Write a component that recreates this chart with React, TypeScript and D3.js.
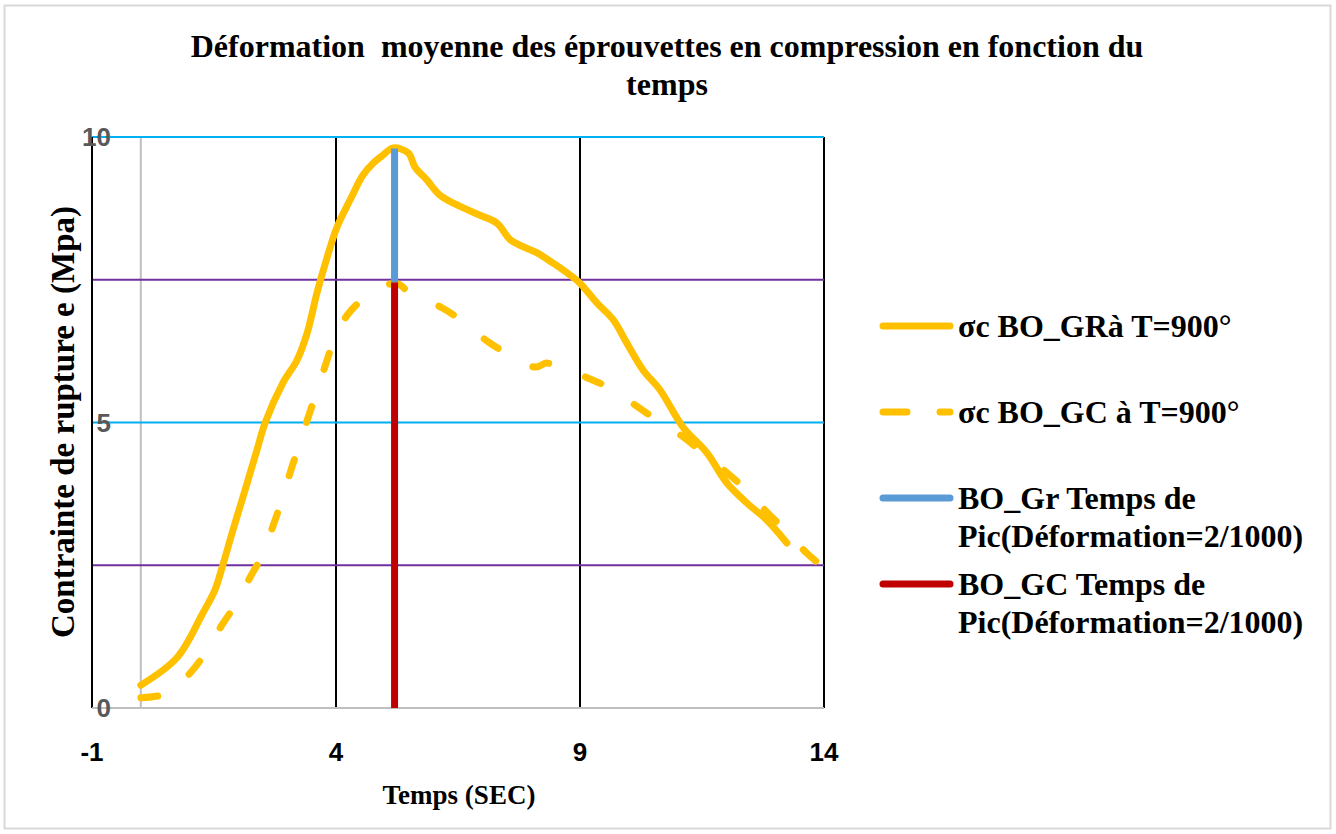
import React from "react";
import * as d3 from "d3";

const grTime = [0, 0.74, 1.27, 1.52, 1.68, 1.89, 2.18, 2.38, 2.55, 2.91, 3.2, 3.41, 3.61, 3.82, 4.02, 4.29, 4.55, 4.76, 4.96, 5.17, 5.48, 5.62, 5.86, 6.13, 6.48, 6.95, 7.3, 7.57, 7.83, 8.12, 8.45, 8.8, 9.0, 9.35, 9.68, 9.96, 10.29, 10.64, 11.11, 11.6, 12.01, 12.42, 12.83, 13.24];
const grStress = [0.4, 0.88, 1.66, 2.07, 2.5, 3.12, 3.94, 4.52, 5.0, 5.69, 6.09, 6.57, 7.27, 7.9, 8.42, 8.9, 9.33, 9.54, 9.68, 9.81, 9.72, 9.47, 9.25, 8.98, 8.81, 8.63, 8.49, 8.2, 8.08, 7.97, 7.79, 7.58, 7.44, 7.09, 6.8, 6.39, 5.92, 5.57, 4.92, 4.47, 3.94, 3.59, 3.29, 2.89];

const gcTime = [0, 0.56, 1.03, 1.32, 1.66, 1.93, 2.24, 2.48, 2.71, 2.87, 3.06, 3.22, 3.41, 3.57, 3.77, 3.94, 4.23, 4.59, 5.17, 5.31, 5.56, 6.17, 6.58, 7.09, 7.48, 8.08, 8.32, 8.55, 9.16, 9.61, 10.19, 10.58, 11.11, 11.5, 12.01, 12.38, 12.83, 13.16, 13.65, 13.98];
const gcStress = [0.18, 0.26, 0.63, 0.96, 1.45, 1.8, 2.29, 2.66, 3.19, 3.59, 4.12, 4.54, 5.04, 5.45, 5.97, 6.39, 6.88, 7.18, 7.44, 7.41, 7.23, 7.01, 6.78, 6.43, 6.22, 5.97, 6.04, 5.97, 5.78, 5.6, 5.27, 5.04, 4.75, 4.48, 4.12, 3.84, 3.43, 3.15, 2.71, 2.47];

const grPeakTime = 5.2;
const grPeakRange = [7.45, 9.8];
const gcPeakTime = 5.2;
const gcPeakRange = [0, 7.45];

const xTicks = [-1, 4, 9, 14];
const yTickLabels = [0, 5, 10];
const cyanGrid = [5, 10];
const purpleGrid = [2.5, 7.5];
const blackVert = [4, 9, 14];
const grayVert = [0];

const titleLines = ["Déformation  moyenne des éprouvettes en compression en fonction du", "temps"];
const legendItems = [
  { lines: ["σc BO_GRà T=900°"], color: "#FFC000", dashed: false },
  { lines: ["σc BO_GC à T=900°"], color: "#FFC000", dashed: true },
  { lines: ["BO_Gr Temps de", "Pic(Déformation=2/1000)"], color: "#5B9BD5", dashed: false },
  { lines: ["BO_GC Temps de", "Pic(Déformation=2/1000)"], color: "#C00000", dashed: false },
];

export default function App() {
  const W = 1336, H = 834;
  const x = d3.scaleLinear().domain([-1, 14]).range([92, 824]);
  const y = d3.scaleLinear().domain([0, 10]).range([708, 137]);
  const line = d3.line<[number, number]>().x(d => x(d[0])).y(d => y(d[1])).curve(d3.curveCatmullRom.alpha(0.5));
  const gr: [number, number][] = grTime.map((t, i) => [t, grStress[i]]);
  const gc: [number, number][] = gcTime.map((t, i) => [t, gcStress[i]]);
  const serifStyle = { fontFamily: "Liberation Serif, DejaVu Serif, serif", fontWeight: 700 } as React.CSSProperties;
  const sansStyle = { fontFamily: "Liberation Sans, Arial, sans-serif", fontWeight: 700 } as React.CSSProperties;
  const dash = "17 39";
  const legendY = [326, 412, 498, 584];
  return (
    <svg width={W} height={H} style={{ position: "absolute", left: 0, top: 0, display: "block" }} xmlns="http://www.w3.org/2000/svg">
      <rect x={0} y={0} width={W} height={H} fill="#fff" />
      <rect x={4.5} y={5.5} width={1326} height={823} fill="#fff" stroke="#d9d9d9" strokeWidth={2} />
      {titleLines.map((t, i) => (
        <text key={i} x={667} y={57 + i * 38} textAnchor="middle" style={serifStyle} fontSize={32} xmlSpace="preserve">{t}</text>
      ))}
      {grayVert.map(v => <line key={"g" + v} x1={x(v)} x2={x(v)} y1={y(10)} y2={y(0)} stroke="#bfbfbf" strokeWidth={2} />)}
      {blackVert.map(v => <line key={"b" + v} x1={x(v)} x2={x(v)} y1={y(10)} y2={y(0)} stroke="#000" strokeWidth={2} />)}
      {purpleGrid.map(v => <line key={"p" + v} x1={x(-1)} x2={x(14)} y1={y(v)} y2={y(v)} stroke="#7030A0" strokeWidth={2} />)}
      {cyanGrid.map(v => <line key={"c" + v} x1={x(-1)} x2={x(14)} y1={y(v)} y2={y(v)} stroke="#00B0F0" strokeWidth={2} />)}
      <line x1={x(-1)} x2={x(-1)} y1={y(10)} y2={y(0)} stroke="#000" strokeWidth={2} />
      <line x1={x(-1)} x2={x(14)} y1={y(0)} y2={y(0)} stroke="#bfbfbf" strokeWidth={2} />
      <path d={line(gr) || ""} fill="none" stroke="#FFC000" strokeWidth={7} strokeLinecap="round" strokeLinejoin="round" />
      <path d={line(gc) || ""} fill="none" stroke="#FFC000" strokeWidth={7} strokeLinecap="round" strokeLinejoin="round" strokeDasharray={dash} />
      <line x1={x(grPeakTime)} x2={x(grPeakTime)} y1={y(grPeakRange[0])} y2={y(grPeakRange[1])} stroke="#5B9BD5" strokeWidth={7} />
      <line x1={x(gcPeakTime)} x2={x(gcPeakTime)} y1={y(gcPeakRange[0])} y2={y(gcPeakRange[1])} stroke="#C00000" strokeWidth={7} />
      {yTickLabels.map(v => (
        <text key={"yl" + v} x={111} y={y(v)} dy="0.36em" textAnchor="end" style={sansStyle} fontSize={26} fill="#595959">{v}</text>
      ))}
      {xTicks.map(v => (
        <text key={"xl" + v} x={x(v)} y={752} dy="0.36em" textAnchor="middle" style={sansStyle} fontSize={26} fill="#000">{v}</text>
      ))}
      <text x={459} y={795} dy="0.35em" textAnchor="middle" style={serifStyle} fontSize={27}>Temps (SEC)</text>
      <text transform={`translate(62,422) rotate(-90)`} textAnchor="middle" dy="0.35em" style={serifStyle} fontSize={33}>Contrainte de rupture e (Mpa)</text>
      {legendItems.map((it, i) => (
        <g key={"lg" + i}>
          <line x1={883} x2={950} y1={legendY[i]} y2={legendY[i]} stroke={it.color} strokeWidth={7} strokeLinecap="round" strokeDasharray={it.dashed ? "24 33" : undefined} />
          {it.lines.map((l, j) => (
            <text key={j} x={958} y={legendY[i] + j * 38} dy="0.35em" style={serifStyle} fontSize={32}>{l}</text>
          ))}
        </g>
      ))}
    </svg>
  );
}
